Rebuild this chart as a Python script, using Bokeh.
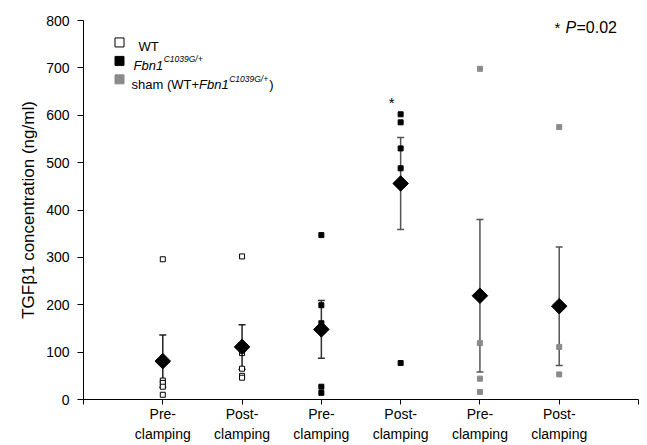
from bokeh.plotting import figure
from bokeh.models import FixedTicker, Whisker, ColumnDataSource, Label, TeeHead, Range1d
from bokeh.embed import file_html
from bokeh.resources import INLINE

# ---------------- data ----------------
cat_labels = ["Pre-\nclamping", "Post-\nclamping", "Pre-\nclamping",
              "Post-\nclamping", "Pre-\nclamping", "Post-\nclamping"]
positions = [1, 2, 3, 4, 5, 6]

wt_pre = [296, 40, 35, 27, 10]
wt_post = [302, 98, 65, 50, 46]
fbn_pre = [347, 199, 161, 27, 14]
fbn_post = [602, 585, 530, 488, 77]
sham_pre = [698, 119, 44, 16]
sham_post = [575, 111, 53]

means = [81, 111, 148, 456, 219, 197]
errors = [55, 47, 61, 97, 161, 125]

y_ticks = [0, 100, 200, 300, 400, 500, 600, 700, 800]

FONT = "Liberation Sans"

# ---------------- figure ----------------
W, H = 639, 445
LEFT, TOP = 83, 20
FRAME_R, FRAME_B = 638, 400
RIGHT, BOTTOM = W - FRAME_R, H - FRAME_B
p = figure(width=W, height=H, x_range=Range1d(0, 7), y_range=Range1d(0, 800),
           output_backend="svg", toolbar_location=None,
           min_border_left=LEFT, min_border_right=RIGHT,
           min_border_top=TOP, min_border_bottom=BOTTOM)
p.outline_line_color = None
p.grid.visible = False
p.background_fill_color = "white"

# layout helpers: picture px -> data coordinates
def dx(px):
    return (px - LEFT) * 7 / (FRAME_R - LEFT)
def dy(py):
    return (FRAME_B - py) * 800 / (FRAME_B - TOP)

# axes
p.xaxis.ticker = FixedTicker(ticks=list(range(0, 8)))
overrides = {0: "", 7: ""}
for pos, lab in zip(positions, cat_labels):
    overrides[pos] = lab
p.xaxis.major_label_overrides = overrides
p.xaxis.major_label_text_font = FONT
p.xaxis.major_label_text_font_size = "14px"
p.xaxis.major_label_text_color = "black"
p.xaxis.major_label_text_line_height = 1.3
p.xaxis.major_label_standoff = 1
p.xaxis.major_tick_out = 5
p.xaxis.major_tick_in = 0
p.xaxis.minor_tick_out = 0
p.xaxis.minor_tick_in = 0
p.xaxis.axis_line_color = "black"
p.xaxis.major_tick_line_color = "black"

p.yaxis.ticker = FixedTicker(ticks=y_ticks)
p.yaxis.major_label_text_font = FONT
p.yaxis.major_label_text_font_size = "14px"
p.yaxis.major_label_text_color = "black"
p.yaxis.major_label_standoff = 8
p.yaxis.major_tick_out = 6
p.yaxis.major_tick_in = 0
p.yaxis.minor_tick_out = 0
p.yaxis.minor_tick_in = 0
p.yaxis.axis_line_color = "black"
p.yaxis.major_tick_line_color = "black"
p.yaxis.axis_label = "TGFβ1 concentration (ng/ml)"
p.yaxis.axis_label_text_font = FONT
p.yaxis.axis_label_text_font_size = "17px"
p.yaxis.axis_label_text_font_style = "normal"
p.yaxis.axis_label_text_color = "black"
p.yaxis.axis_label_standoff = 5

# ---------------- error bars ----------------
bar_colors = ["#222222", "#222222", "#333333", "#555555", "#555555", "#555555"]
src = ColumnDataSource(dict(
    x=positions,
    mean=means,
    upper=[m + e for m, e in zip(means, errors)],
    lower=[m - e for m, e in zip(means, errors)],
    color=bar_colors,
))
wh = Whisker(base="x", upper="upper", lower="lower", source=src,
             line_color="color", line_width=1.5,
             upper_head=TeeHead(size=7, line_color="color", line_width=1.5),
             lower_head=TeeHead(size=7, line_color="color", line_width=1.5))
p.add_layout(wh)

# ---------------- individual points ----------------
def pts(pos, vals):
    return [pos] * len(vals), vals

GRAY = "#8a8a8a"
x, y = pts(1, wt_pre)
p.scatter(x, y, marker="square", size=5, fill_color="white", line_color="black", line_width=1)
x, y = pts(2, wt_post)
p.scatter(x, y, marker="square", size=5, fill_color="white", line_color="black", line_width=1)
x, y = pts(3, fbn_pre)
p.scatter(x, y, marker="square", size=5, fill_color="black", line_color="black")
x, y = pts(4, fbn_post)
p.scatter(x, y, marker="square", size=5, fill_color="black", line_color="black")
x, y = pts(5, sham_pre)
p.scatter(x, y, marker="square", size=5, fill_color=GRAY, line_color=GRAY)
x, y = pts(6, sham_post)
p.scatter(x, y, marker="square", size=5, fill_color=GRAY, line_color=GRAY)

# means (diamonds)
p.scatter("x", "mean", source=src, marker="square", angle=0.785398, size=11,
          fill_color="black", line_color="black")

# significance asterisk above Fbn1 post-clamping
p.add_layout(Label(x=4, y=max(fbn_post), x_offset=-9, y_offset=12, text="*",
                   text_font=FONT, text_font_size="15px", text_align="center",
                   text_baseline="middle", text_color="black"))

# ---------------- legend (manual, for italics/superscripts) ----------------
SW_X = 119
rows_sq = [42, 60.5, 79]
rows_bl = [46.5, 65, 84.5]
p.scatter([dx(SW_X)], [dy(rows_sq[0])], marker="square", size=9,
          fill_color="white", line_color="black", line_width=1)
p.scatter([dx(SW_X)], [dy(rows_sq[1])], marker="square", size=9,
          fill_color="black", line_color="black")
p.scatter([dx(SW_X)], [dy(rows_sq[2])], marker="square", size=9,
          fill_color=GRAY, line_color=GRAY)

def txt(px, py, s, size="13px", style="normal"):
    p.add_layout(Label(x=dx(px), y=dy(py), text=s, text_font=FONT,
                       text_font_size=size, text_font_style=style,
                       text_align="left", text_baseline="alphabetic",
                       text_color="black"))

S, S2 = 13, 8.5
W_FBN = 2.279 * S
W_SHAM = 5.195 * S
W_SUP = 4.586 * S2

txt(138, rows_bl[0], "WT")
x0 = 133
txt(x0, rows_bl[1], "Fbn1", style="italic")
txt(x0 + W_FBN + 0.5, rows_bl[1] - 6, "C1039G/+", size="8.5px", style="italic")
x0 = 131
txt(x0, rows_bl[2], "sham (WT+")
txt(x0 + W_SHAM, rows_bl[2], "Fbn1", style="italic")
txt(x0 + W_SHAM + W_FBN + 0.5, rows_bl[2] - 6, "C1039G/+", size="8.5px", style="italic")
txt(x0 + W_SHAM + W_FBN + W_SUP + 1.5, rows_bl[2], ")")

# P value note
txt(554, 27, "*", size="15px")
txt(565, 27, "P", size="16px", style="italic")
txt(576, 27, "=0.02", size="16px")

open("out.html", "w").write(file_html(p, INLINE))
